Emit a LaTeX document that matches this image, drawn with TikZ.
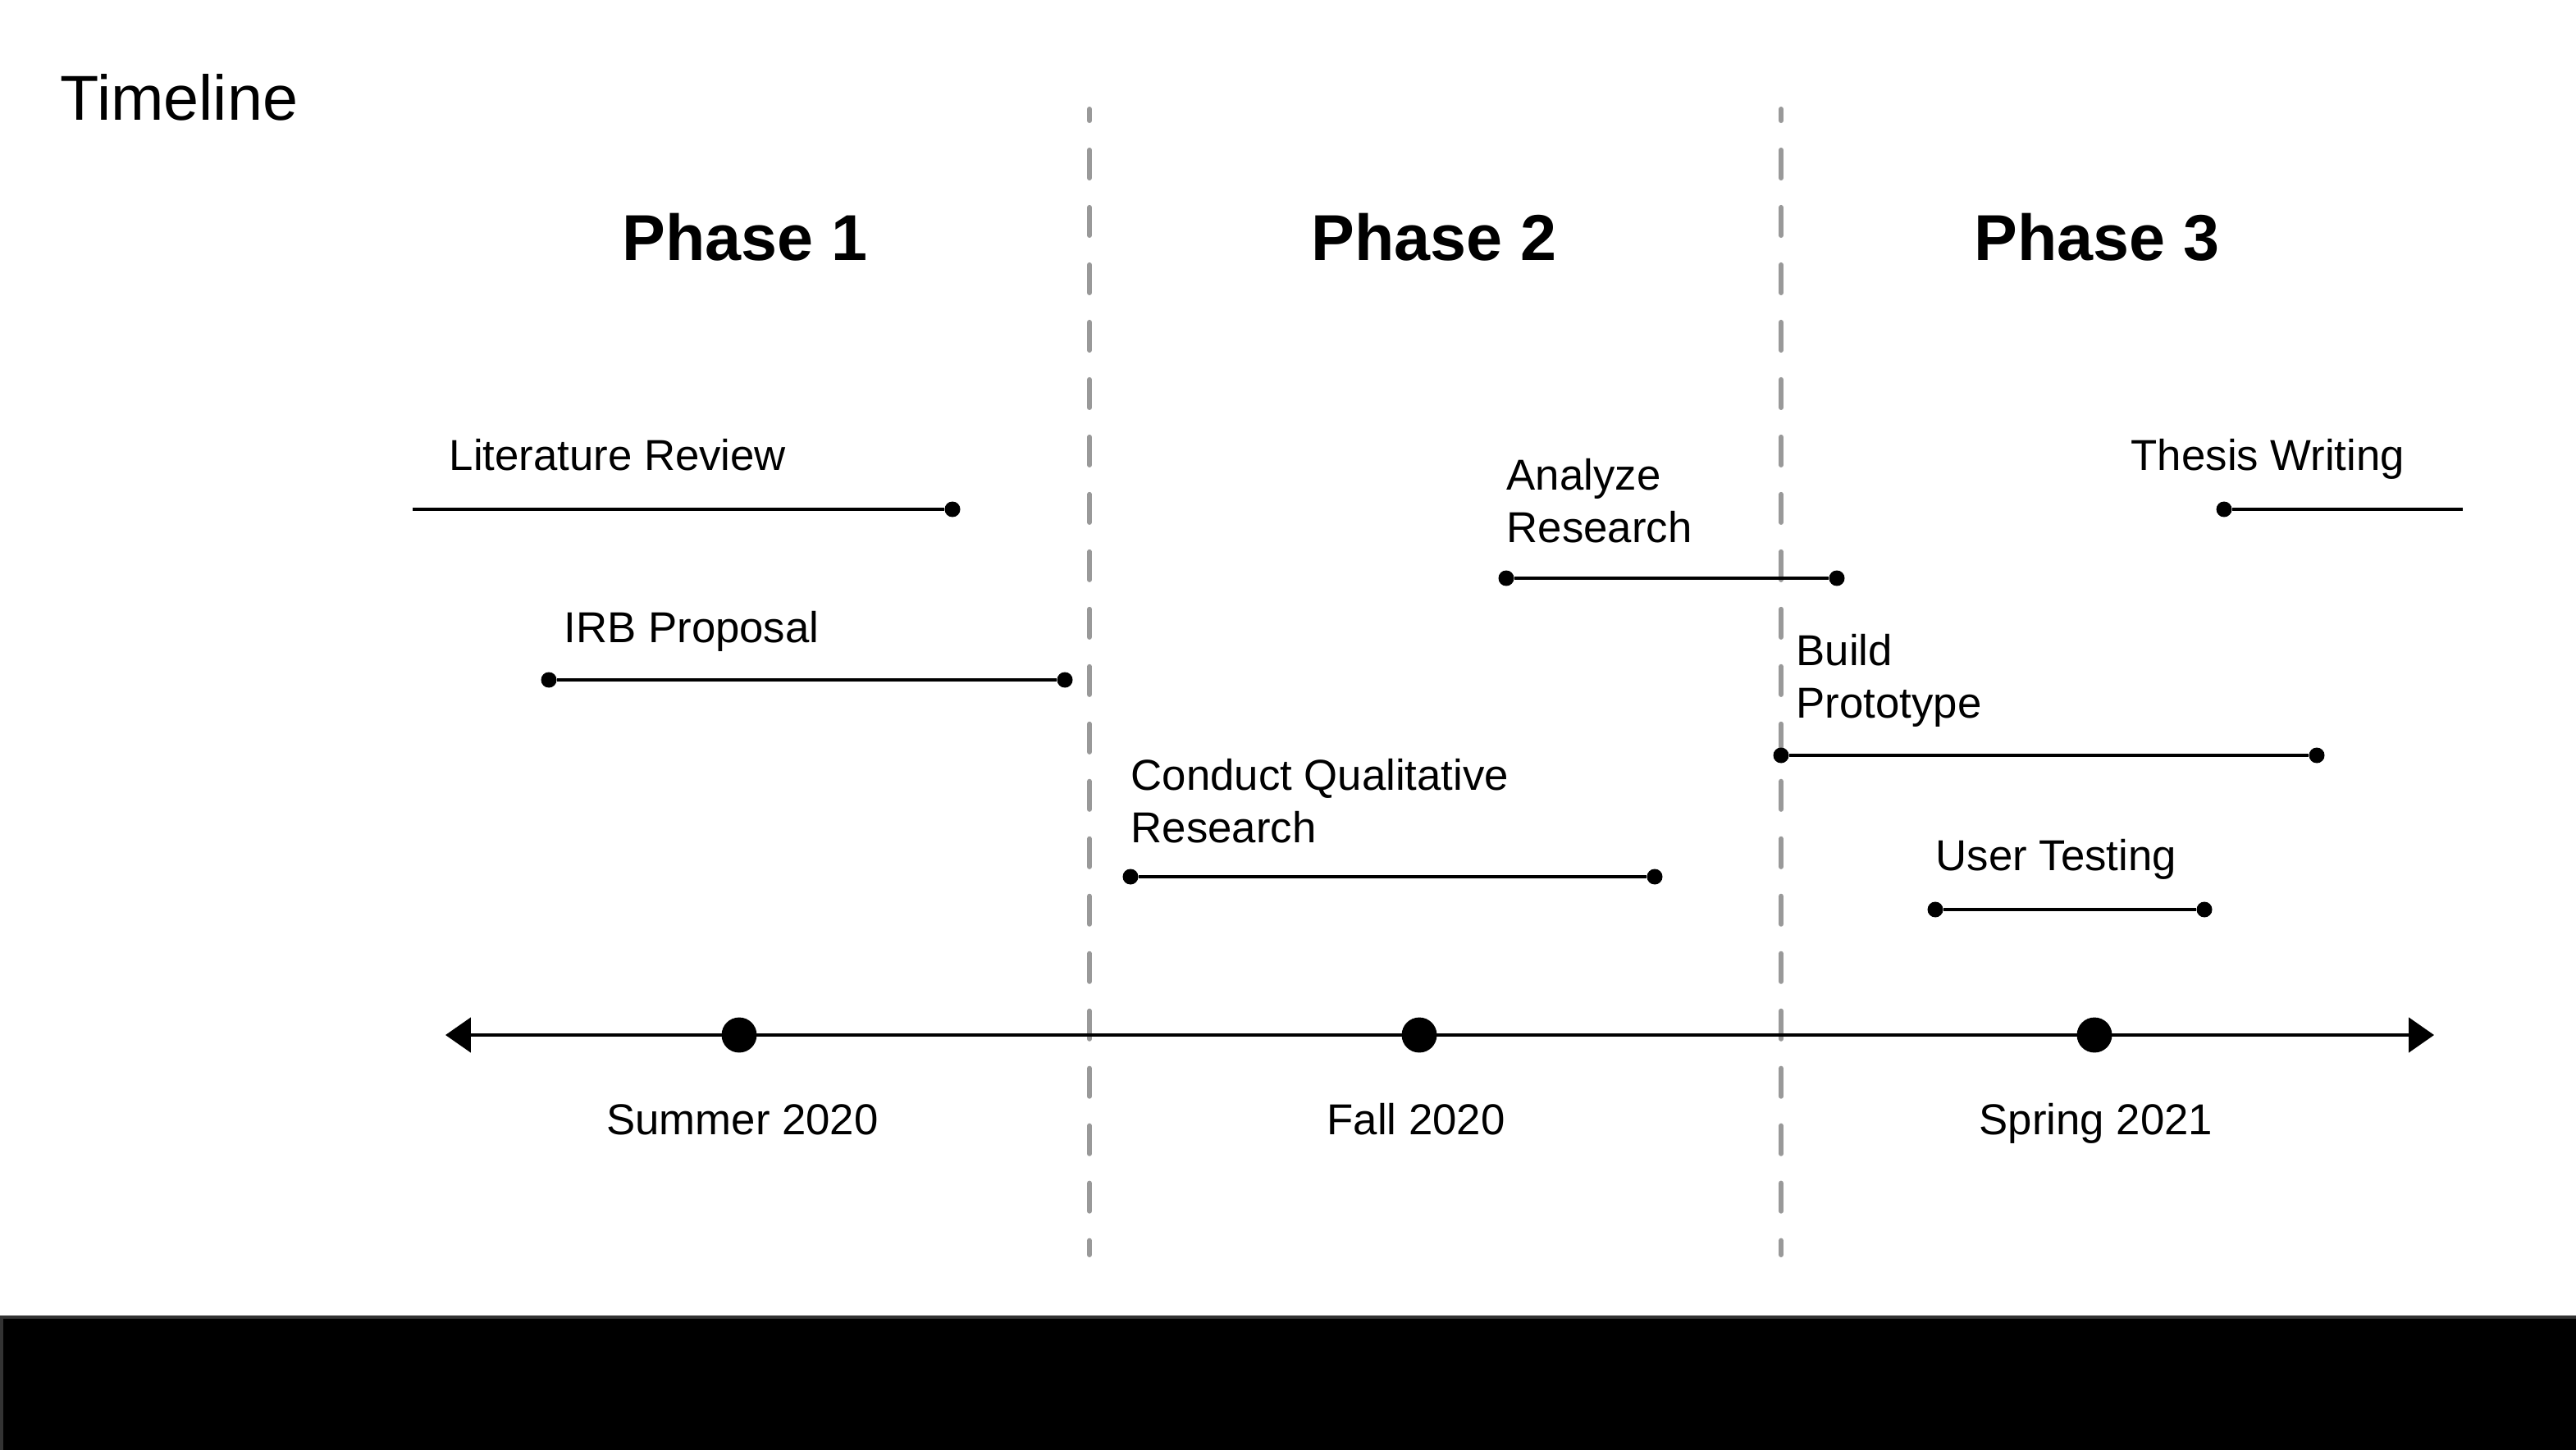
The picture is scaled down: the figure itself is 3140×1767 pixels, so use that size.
\documentclass[tikz,border=0pt]{standalone}
\usepackage{fontspec}
\setmainfont{Liberation Sans}
\usetikzlibrary{arrows.meta}

\begin{document}
\begin{tikzpicture}[
  x=0.01cm, y=-0.01cm,
  title/.style={anchor=base west, inner sep=0pt, font=\fontsize{22}{26}\selectfont},
  phase/.style={anchor=base, inner sep=0pt, font=\fontsize{22.5}{27}\selectfont\bfseries},
  task/.style={anchor=base west, inner sep=0pt, align=left, font=\fontsize{15}{18.2}\selectfont},
  date/.style={anchor=base, inner sep=0pt, font=\fontsize{15}{18}\selectfont},
  dot/.style={circle, fill, inner sep=0pt, minimum size=5.4pt},
  bigdot/.style={circle, fill, inner sep=0pt, minimum size=12.2pt},
  bar/.style={line width=0.95pt},
  divider/.style={draw=black!40, line width=1.7pt, line cap=round, dash pattern=on 9.7pt off 10.2pt, dash phase=5.7pt},
  axis/.style={line width=1.15pt, {Triangle[length=8.8pt,width=12pt]}-{Triangle[length=8.8pt,width=12pt]}}
]
\useasboundingbox (0,0) rectangle (3140,1767);

% phase dividers
\coordinate (d1top) at (1328,133);
\coordinate (d1bot) at (1328,1530);
\coordinate (d2top) at (2171,133);
\coordinate (d2bot) at (2171,1530);
\draw[divider] (d1top) -- (d1bot);
\draw[divider] (d2top) -- (d2bot);

% headings
\node[title] (title) at (73,147) {Timeline};
\node[phase] (ph1) at (908,318)  {Phase 1};
\node[phase] (ph2) at (1748,318) {Phase 2};
\node[phase] (ph3) at (2556,318) {Phase 3};

% tasks (base = last line)
\node[task] (litT) at (547,573)  {Literature Review};
\node[task] (irbT) at (687,783)  {IRB Proposal};
\node[task] (conT) at (1378,1027) {Conduct Qualitative\\Research};
\node[task] (anaT) at (1836,661) {Analyze\\Research};
\node[task] (bldT) at (2189,875) {Build\\Prototype};
\node[task] (thsT) at (2597,573) {Thesis Writing};
\node[task] (usrT) at (2359,1061) {User Testing};

\coordinate (litL) at (503,621);
\node[dot] (litR) at (1161,621) {};
\node[dot] (irbL) at (669,829)  {};
\node[dot] (irbR) at (1298,829) {};
\node[dot] (conL) at (1378,1069) {};
\node[dot] (conR) at (2017,1069) {};
\node[dot] (anaL) at (1836,705) {};
\node[dot] (anaR) at (2239,705) {};
\node[dot] (bldL) at (2171,921) {};
\node[dot] (bldR) at (2824,921) {};
\node[dot] (thsL) at (2711,621) {};
\coordinate (thsR) at (3002,621);
\node[dot] (usrL) at (2359,1109) {};
\node[dot] (usrR) at (2687,1109) {};

\draw[bar] (litL) -- (litR);
\draw[bar] (irbL) -- (irbR);
\draw[bar] (conL) -- (conR);
\draw[bar] (anaL) -- (anaR);
\draw[bar] (bldL) -- (bldR);
\draw[bar] (thsL) -- (thsR);
\draw[bar] (usrL) -- (usrR);

% time axis
\coordinate (axL) at (543,1262);
\coordinate (axR) at (2967,1262);
\draw[axis] (axL) -- (axR);
\node[bigdot] (summer) at (901,1262)  {};
\node[bigdot] (fall)   at (1730,1262) {};
\node[bigdot] (spring) at (2553,1262) {};
\node[date] (summerT) at (905,1383)  {Summer 2020};
\node[date] (fallT)   at (1726,1383) {Fall 2020};
\node[date] (springT) at (2555,1383) {Spring 2021};

% footer band
\fill[black, draw=black!80, line width=1.1pt] (2,1606) rectangle (3145,1772);
\end{tikzpicture}
\end{document}
